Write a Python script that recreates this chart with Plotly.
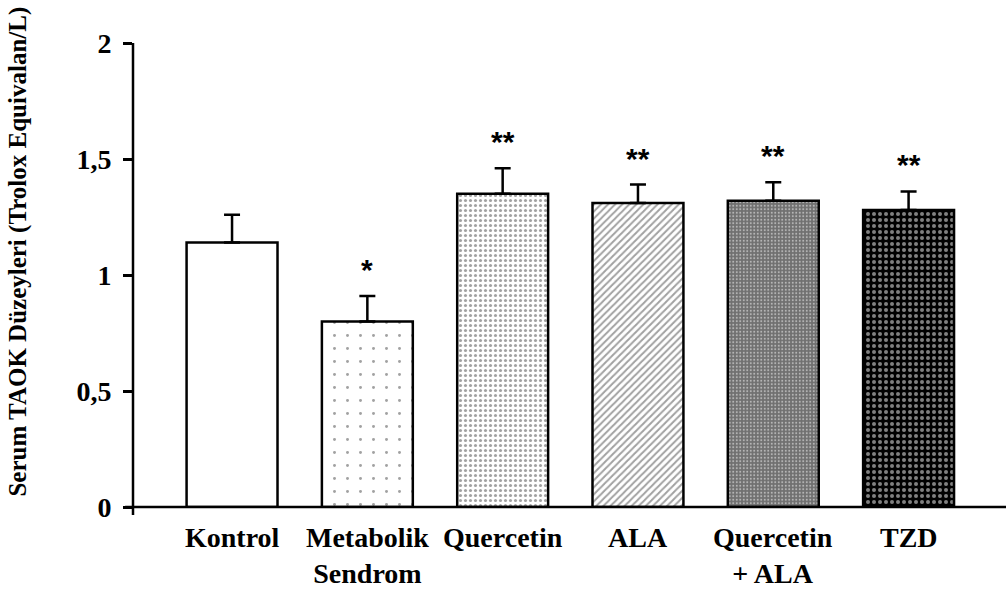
import plotly.graph_objects as go

# Groups, mean TAOK levels and standard errors
groups = ["Kontrol", "Metabolik<br>Sendrom", "Quercetin", "ALA", "Quercetin<br>+ ALA", "TZD"]
taok_mean = [1.14, 0.80, 1.35, 1.31, 1.32, 1.28]
taok_err = [0.12, 0.11, 0.11, 0.08, 0.08, 0.08]
significance = ["", "*", "**", "**", "**", "**"]
y_ticks = [0, 0.5, 1, 1.5, 2]

# Fill styles for each group
fill_colors = ["white", "white", "white", "white", "#707070", "black"]
pat_shapes = ["", ".", ".", "/", ".", "."]
pat_fg = ["black", "#555555", "#444444", "#444444", "white", "#e0e0e0"]
pat_size = [8, 13, 5, 5, 3.5, 6]
pat_solid = [0.1, 0.04, 0.3, 0.4, 0.25, 0.35]

serif = "Liberation Serif"

fig = go.Figure()
fig.add_trace(go.Bar(
    x=groups,
    y=taok_mean,
    marker=dict(
        color=fill_colors,
        line=dict(color="black", width=2.5),
        pattern=dict(shape=pat_shapes, fgcolor=pat_fg, size=pat_size,
                     solidity=pat_solid, fillmode="overlay"),
    ),
    error_y=dict(type="data", symmetric=False, array=taok_err,
                 arrayminus=[0] * len(taok_err),
                 color="black", thickness=2.5, width=8),
    width=0.672,
    showlegend=False,
))

# Significance marks above the error bars
for g, m, e, s in zip(groups, taok_mean, taok_err, significance):
    if s:
        fig.add_annotation(x=g, y=m + e, text="<b>" + s + "</b>", showarrow=False,
                           yanchor="bottom", yshift=8,
                           font=dict(family="Liberation Sans", size=30, color="black"))

# Category labels beneath the axis
for g in groups:
    fig.add_annotation(x=g, y=0, text="<b>" + g + "</b>", showarrow=False,
                       yanchor="top", yshift=-13,
                       font=dict(family=serif, size=28, color="black"))

# Axis lines that run a little past the origin
fig.add_shape(type="line", xref="paper", yref="paper", x0=0, x1=0, y0=-0.017, y1=1,
              line=dict(color="black", width=2.5))
fig.add_shape(type="line", xref="paper", yref="paper", x0=-0.009, x1=1, y0=0, y1=0,
              line=dict(color="black", width=2.5))

# Vertical axis title
fig.add_annotation(xref="paper", yref="paper", x=-0.132, y=0.55, xanchor="center",
                   yanchor="middle", textangle=-90, showarrow=False,
                   text="<b>Serum TAOK Düzeyleri (Trolox Equivalan/L)</b>",
                   font=dict(family=serif, size=25, color="black"))

fig.update_layout(
    width=1006, height=592,
    margin=dict(l=133, r=0, t=43, b=85),
    plot_bgcolor="white", paper_bgcolor="white",
    separators=",.",
    xaxis=dict(range=[-0.732, 5.72], showticklabels=False, showline=False,
               showgrid=False, zeroline=False, ticks=""),
    yaxis=dict(range=[0, 2], tickvals=y_ticks, ticks="outside", ticklen=9,
               tickwidth=2.5, tickcolor="black", showgrid=False, zeroline=False,
               showline=False, ticklabelstandoff=6,
               tickfont=dict(family=serif, size=28, weight="bold", color="black")),
)

fig.write_html("out.html")
